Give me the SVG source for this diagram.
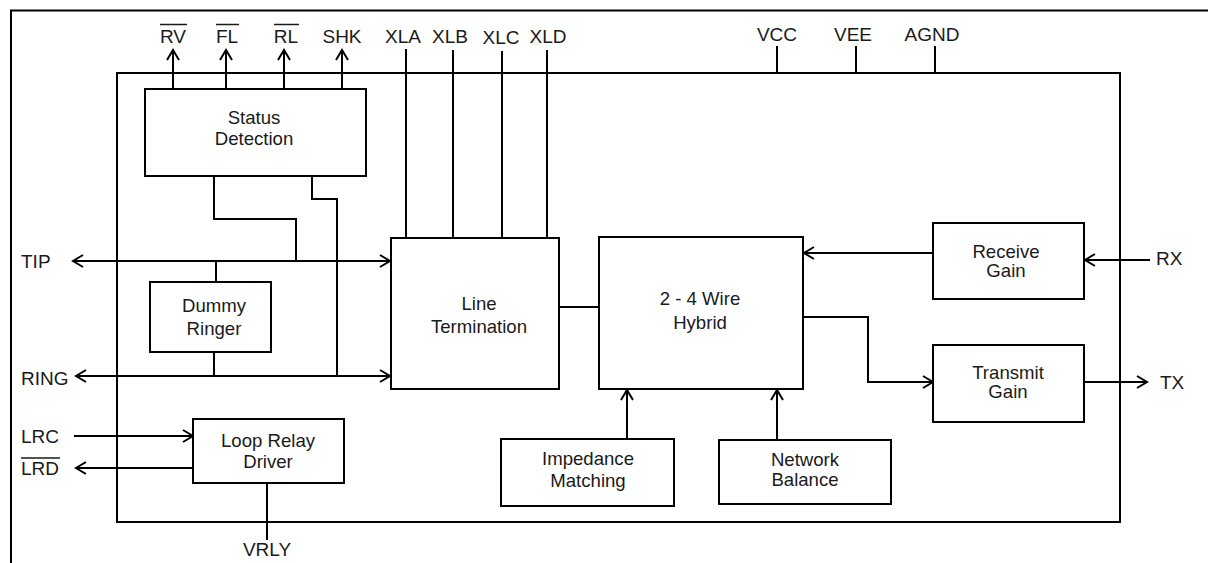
<svg xmlns="http://www.w3.org/2000/svg" width="1208" height="563" viewBox="0 0 1208 563">
<style>
.b{fill:#fff;stroke:#000;stroke-width:2}
.l{fill:none;stroke:#000;stroke-width:2}
.o{fill:none;stroke:#1a1a1a;stroke-width:1.5}
.t{font-family:"Liberation Sans",Arial,sans-serif;font-size:18.6px;fill:#1a1a1a;text-anchor:middle}
.p{font-family:"Liberation Sans",Arial,sans-serif;font-size:19px;fill:#1a1a1a}
.a{marker-end:url(#ah)}
.a2{marker-start:url(#ah);marker-end:url(#ah)}
</style>
<defs>
<marker id="ah" viewBox="-12 -8 14 16" markerWidth="14" markerHeight="16" refX="0" refY="0" orient="auto-start-reverse" markerUnits="userSpaceOnUse">
<path d="M -10 -6 L 0 0 L -10 6" fill="none" stroke="#000" stroke-width="2"/>
</marker>
</defs>
<rect width="1208" height="563" fill="#fff"/>
<g id="frame">
<path class="l" d="M 11 563 V 10.5 H 1208"/>
<rect class="b" x="117" y="73" width="1003" height="449" fill="none"/>
</g>
<g id="connectors">
<line class="l a" x1="173" y1="89" x2="173" y2="50"/>
<line class="l a" x1="226" y1="89" x2="226" y2="50"/>
<line class="l a" x1="284" y1="89" x2="284" y2="50"/>
<line class="l a" x1="342" y1="89" x2="342" y2="50"/>
<line class="l" x1="406" y1="49" x2="406" y2="238"/>
<line class="l" x1="453" y1="50" x2="453" y2="238"/>
<line class="l" x1="502" y1="51" x2="502" y2="238"/>
<line class="l" x1="547" y1="50" x2="547" y2="238"/>
<line class="l" x1="777" y1="46" x2="777" y2="73"/>
<line class="l" x1="856" y1="46" x2="856" y2="74"/>
<line class="l" x1="935" y1="46" x2="935" y2="73"/>
<line class="l a2" x1="73" y1="261" x2="390" y2="261"/>
<line class="l a2" x1="76" y1="376" x2="390" y2="376"/>
<path class="l" d="M 214 176 V 219 H 296 V 261"/>
<path class="l" d="M 312 176 V 199 H 337 V 376"/>
<line class="l" x1="216" y1="261" x2="216" y2="282"/>
<line class="l" x1="214" y1="352" x2="214" y2="376"/>
<line class="l" x1="559" y1="307" x2="599" y2="307"/>
<line class="l a" x1="933" y1="253" x2="804" y2="253"/>
<line class="l a" x1="1150" y1="260" x2="1085" y2="260"/>
<path class="l a" d="M 803 317 H 868 V 382 H 933"/>
<line class="l a" x1="1084" y1="382" x2="1147" y2="382"/>
<line class="l a" x1="627" y1="439" x2="627" y2="390"/>
<line class="l a" x1="777" y1="440" x2="777" y2="390"/>
<line class="l a" x1="74" y1="436" x2="193" y2="436"/>
<line class="l a" x1="193" y1="468" x2="76" y2="468"/>
<line class="l" x1="267" y1="484" x2="267" y2="540"/>
</g>
<g id="status">
<rect class="b" x="145" y="89" width="221" height="87"/>
<text class="t" x="254" y="124">Status</text>
<text class="t" x="254" y="145">Detection</text>
</g>
<g id="dummy">
<rect class="b" x="150" y="282" width="121" height="70"/>
<text class="t" x="214" y="312">Dummy</text>
<text class="t" x="214" y="335">Ringer</text>
</g>
<g id="lineterm">
<rect class="b" x="391" y="238" width="168" height="151"/>
<text class="t" x="479" y="310">Line</text>
<text class="t" x="479" y="333">Termination</text>
</g>
<g id="hybrid">
<rect class="b" x="599" y="237" width="204" height="152"/>
<text class="t" x="700" y="305">2 - 4 Wire</text>
<text class="t" x="700" y="329">Hybrid</text>
</g>
<g id="receive">
<rect class="b" x="933" y="223" width="151" height="76"/>
<text class="t" x="1006" y="257.5">Receive</text>
<text class="t" x="1006" y="276.5">Gain</text>
</g>
<g id="transmit">
<rect class="b" x="933" y="345" width="151" height="77"/>
<text class="t" x="1008" y="378.5">Transmit</text>
<text class="t" x="1008" y="397.5">Gain</text>
</g>
<g id="looprelay">
<rect class="b" x="193" y="419" width="151" height="64"/>
<text class="t" x="268" y="447">Loop Relay</text>
<text class="t" x="268" y="468">Driver</text>
</g>
<g id="impedance">
<rect class="b" x="501" y="439" width="173" height="67"/>
<text class="t" x="588" y="465">Impedance</text>
<text class="t" x="588" y="487">Matching</text>
</g>
<g id="network">
<rect class="b" x="719" y="440" width="172" height="64"/>
<text class="t" x="805" y="466">Network</text>
<text class="t" x="805" y="486">Balance</text>
</g>
<g id="pins">
<text class="p" x="173" y="43" text-anchor="middle">RV</text>
<text class="p" x="227" y="43" text-anchor="middle">FL</text>
<text class="p" x="286" y="43" text-anchor="middle">RL</text>
<text class="p" x="342" y="43" text-anchor="middle">SHK</text>
<text class="p" x="403" y="43" text-anchor="middle">XLA</text>
<text class="p" x="450" y="43" text-anchor="middle">XLB</text>
<text class="p" x="501" y="44" text-anchor="middle">XLC</text>
<text class="p" x="548" y="43" text-anchor="middle">XLD</text>
<text class="p" x="777" y="41" text-anchor="middle">VCC</text>
<text class="p" x="853" y="41" text-anchor="middle">VEE</text>
<text class="p" x="932" y="41" text-anchor="middle">AGND</text>
<text class="p" x="21" y="268">TIP</text>
<text class="p" x="21" y="385">RING</text>
<text class="p" x="21" y="443">LRC</text>
<text class="p" x="21" y="475">LRD</text>
<text class="p" x="1156" y="265">RX</text>
<text class="p" x="1160" y="389">TX</text>
<text class="p" x="267" y="556" text-anchor="middle">VRLY</text>
<line class="o" x1="160" y1="24.5" x2="187" y2="24.5"/>
<line class="o" x1="216" y1="24.5" x2="239" y2="24.5"/>
<line class="o" x1="274" y1="24.5" x2="299" y2="24.5"/>
<line class="o" x1="21" y1="458" x2="60" y2="458"/>
</g>
</svg>
